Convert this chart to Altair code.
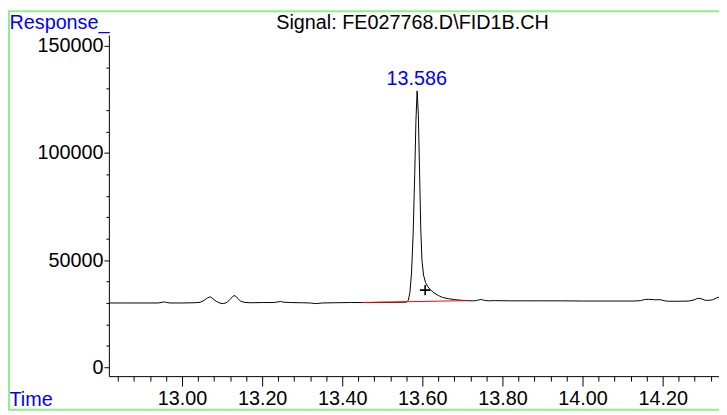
import altair as alt
import pandas as pd

# ---- data ----
times = [12.817, 12.85, 12.90, 12.94, 12.950, 12.956, 12.962, 12.97, 13.00, 13.03,
         13.045, 13.055, 13.063, 13.070, 13.077, 13.085, 13.095, 13.103, 13.112, 13.120,
         13.127, 13.132, 13.138, 13.146, 13.155, 13.17, 13.20, 13.23, 13.240, 13.246,
         13.252, 13.27, 13.30, 13.32, 13.335, 13.35, 13.38, 13.42, 13.46, 13.50,
         13.54, 13.560, 13.565, 13.569, 13.573, 13.577, 13.581, 13.584, 13.587, 13.590,
         13.593, 13.596, 13.599, 13.603, 13.608, 13.614, 13.621, 13.630, 13.640, 13.650,
         13.665, 13.680, 13.695, 13.710, 13.725, 13.735, 13.742, 13.748, 13.755, 13.765,
         13.78, 13.82, 13.86, 13.90, 13.95, 14.00, 14.05, 14.10, 14.13, 14.145,
         14.155, 14.165, 14.18, 14.195, 14.205, 14.215, 14.24, 14.265, 14.278, 14.288,
         14.296, 14.305, 14.315, 14.325, 14.335, 14.341]
response = [30000, 30000, 30000, 30000, 30300, 30500, 30200, 30000, 30000, 30100,
            30300, 31200, 32300, 32900, 32000, 30800, 29900, 29700, 30200, 31700,
            33100, 33500, 32300, 30900, 30300, 30100, 30200, 30200, 30500, 30700,
            30400, 30200, 30100, 30000, 29700, 30000, 30100, 30200, 30200, 30300,
            30300, 30400, 31200, 35000, 44000, 62000, 90000, 115000, 129000, 118000,
            92000, 65000, 50000, 43000, 39500, 37500, 36000, 34600, 33500, 32600,
            32000, 31600, 31300, 31100, 31000, 31100, 31500, 31600, 31200, 31000,
            31100, 31000, 31000, 31000, 31000, 30900, 30900, 30900, 30900, 31100,
            31600, 31700, 31500, 31500, 31000, 30800, 30800, 30900, 31400, 32200,
            32000, 31300, 31200, 31500, 32400, 32700]

baseline_t = [13.45, 13.71]
baseline_v = [30200, 31100]

peak_t = [13.586]
peak_v = [129000]
peak_label = ["13.586"]

marker_t = [13.607]
marker_v = [36000]

x_major = [13.00, 13.20, 13.40, 13.60, 13.80, 14.00, 14.20]
x_minor = [12.84, 12.88, 12.92, 12.96, 13.04, 13.08, 13.12, 13.16,
           13.24, 13.28, 13.32, 13.36, 13.44, 13.48, 13.52, 13.56,
           13.64, 13.68, 13.72, 13.76, 13.84, 13.88, 13.92, 13.96,
           14.04, 14.08, 14.12, 14.16, 14.24, 14.28, 14.32]
y_major = [0, 50000, 100000, 150000]
y_minor = [10000, 20000, 30000, 40000, 60000, 70000, 80000, 90000,
           110000, 120000, 130000, 140000]

title_text = "Signal: FE027768.D\\FID1B.CH"
x_title = "Time"
y_title = "Response_"

# ---- layout ----
FONT = "Liberation Sans"
BLUE = "#0000ff"
W, H = 617, 345
PAD_L, PAD_T = 102, 25
X_DOMAIN = [12.8173, 14.3407]
Y_DOMAIN = [-4150, 155080]
LBL = 20
TXT = 20
TOP_BASE = -6.5   # baseline of the top texts, relative to the plot top

sig = pd.DataFrame({"t": times, "v": response})
base = pd.DataFrame({"t": baseline_t, "v": baseline_v})
peak = pd.DataFrame({"t": peak_t, "v": peak_v, "label": peak_label})
mark = pd.DataFrame({"t": marker_t, "v": marker_v})

xscale = alt.Scale(domain=X_DOMAIN, nice=False, zero=False)
yscale = alt.Scale(domain=Y_DOMAIN, nice=False, zero=False)

x_axis = alt.Axis(
    orient="bottom", values=x_major, format=".2f", tickSize=10,
    labelPadding=3, labelFontSize=LBL, labelFont=FONT, labelColor="black",
    labelOverlap=False, labelFlush=False,
    domainColor="black", tickColor="black", grid=False,
    title=x_title, titleAngle=0, titleAlign="left", titleBaseline="alphabetic",
    titleX=-PAD_L + 1, titleY=30, titleColor=BLUE, titleFontSize=LBL,
    titleFont=FONT, titleFontWeight="normal",
)
y_axis = alt.Axis(
    orient="left", values=y_major, format="d", tickSize=5,
    labelPadding=1, labelFontSize=LBL, labelFont=FONT, labelColor="black",
    labelOverlap=False, labelFlush=False,
    domainColor="black", tickColor="black", grid=False,
    title=y_title, titleAngle=0, titleAlign="left", titleBaseline="alphabetic",
    titleX=-PAD_L + 1, titleY=TOP_BASE, titleColor=BLUE, titleFontSize=TXT,
    titleFont=FONT, titleFontWeight="normal",
)
x_minor_axis = alt.Axis(
    orient="bottom", values=x_minor, labels=False, domain=False, tickSize=5,
    tickColor="black", grid=False, title=None,
)
y_minor_axis = alt.Axis(
    orient="left", values=y_minor, labels=False, domain=False, tickSize=3,
    tickColor="black", grid=False, title=None,
)

frame = alt.Chart(pd.DataFrame({"k": [0]})).mark_rect(
    fillOpacity=0, stroke="#90ee90", strokeWidth=2,
).encode(
    x=alt.value(-PAD_L + 1), x2=alt.value(W + 40),
    y=alt.value(-PAD_T + 1), y2=alt.value(H + 34),
)
line = alt.Chart(sig).mark_line(color="black", strokeWidth=1, clip=True).encode(
    x=alt.X("t:Q", scale=xscale, axis=x_axis),
    y=alt.Y("v:Q", scale=yscale, axis=y_axis),
)
red = alt.Chart(base).mark_line(color="#ff0000", strokeWidth=1).encode(
    x=alt.X("t:Q", scale=xscale, axis=x_minor_axis),
    y=alt.Y("v:Q", scale=yscale, axis=y_minor_axis),
)
plus = alt.Chart(mark).mark_point(
    shape="M-1,0L1,0M0,-1L0,1", size=110, filled=False, color="black",
    strokeWidth=1.6, opacity=1,
).encode(
    x=alt.X("t:Q", scale=xscale, axis=None),
    y=alt.Y("v:Q", scale=yscale, axis=None),
)
label = alt.Chart(peak).mark_text(
    color=BLUE, fontSize=LBL, font=FONT, baseline="alphabetic", dy=-6,
).encode(
    x=alt.X("t:Q", scale=xscale, axis=None),
    y=alt.Y("v:Q", scale=yscale, axis=None),
    text="label:N",
)
title = alt.Chart(pd.DataFrame({"k": [0]})).mark_text(
    color="black", fontSize=TXT, font=FONT, baseline="alphabetic", align="center",
).encode(
    x=alt.value(W / 2 - 1.5), y=alt.value(TOP_BASE), text=alt.value(title_text),
)

chart = alt.layer(frame, line, red, plus, label, title).resolve_axis(
    x="independent", y="independent"
).properties(
    width=W, height=H,
    padding={"left": PAD_L, "top": PAD_T, "right": 0, "bottom": 36},
    autosize=alt.AutoSizeParams(type="none"),
    background="white",
).configure_view(stroke=None)

chart.save("out.html", embed_options={"renderer": "svg", "actions": False})
